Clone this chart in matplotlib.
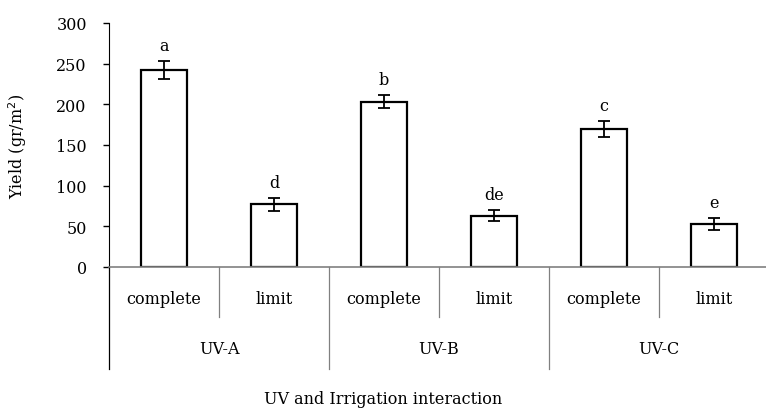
import matplotlib
matplotlib.use("Agg")
import matplotlib.pyplot as plt
from matplotlib.transforms import blended_transform_factory

uv_groups = ["UV-A", "UV-B", "UV-C"]
irrigation = ["complete", "limit", "complete", "limit", "complete", "limit"]
yield_vals = [242, 77, 203, 63, 170, 53]
errors = [11, 8, 8, 7, 10, 7]
letters = ["a", "d", "b", "de", "c", "e"]
yticks = [0, 50, 100, 150, 200, 250, 300]

plt.rcParams['font.family'] = ['DejaVu Serif']
FS = 11.5
fig = plt.figure(figsize=(7.66, 4.14), dpi=100)
ax = fig.add_axes([109/766, (414-268)/414, 660/766, 244/414])

x = [i + 0.5 for i in range(len(yield_vals))]
ax.bar(x, yield_vals, width=0.41, color="white", edgecolor="black", linewidth=1.6, zorder=2)
ax.errorbar(x, yield_vals, yerr=errors, fmt="none", ecolor="black", elinewidth=1.3,
            capsize=4, capthick=1.3, zorder=3)
for xi, v, e, l in zip(x, yield_vals, errors, letters):
    ax.annotate(l, (xi, v + e), xytext=(0, 5), textcoords="offset points",
                ha="center", va="bottom", fontsize=FS)

ax.set_xlim(0, 6)
ax.set_ylim(0, 300)
ax.set_yticks(yticks)
ax.tick_params(axis="y", labelsize=FS, length=4, width=1, direction="out", pad=12)
ax.set_xticks([])
for s in ["top", "right"]:
    ax.spines[s].set_visible(False)
ax.spines["left"].set_color("black")
ax.spines["bottom"].set_color("#808080")
ax.spines["bottom"].set_linewidth(1.2)

trans = blended_transform_factory(ax.transData, ax.transAxes)
px = 1 / 244.0  # axes fraction per pixel in y
short_end = -(318 - 268) * px
long_end = -(370 - 268) * px
for i in range(7):
    end = long_end if i % 2 == 0 else short_end
    color = "black" if i == 0 else "#808080"
    ax.plot([i, i], [0, end], transform=trans, color=color, lw=0.9, clip_on=False)
for i, lab in enumerate(irrigation):
    ax.text(i + 0.5, -(299 - 268) * px, lab, transform=trans, ha="center", va="center", fontsize=FS)
for g, lab in enumerate(uv_groups):
    ax.text(2 * g + 1, -(349 - 268) * px, lab, transform=trans, ha="center", va="center", fontsize=FS)

fig.text(383/766, 1 - 400/414, "UV and Irrigation interaction", ha="center", va="center", fontsize=FS)
fig.text(18/766, 1 - 146/414, "Yield (gr/m$^2$)", rotation=90, ha="center", va="center", fontsize=FS)

fig.savefig("out.png", dpi=100)
